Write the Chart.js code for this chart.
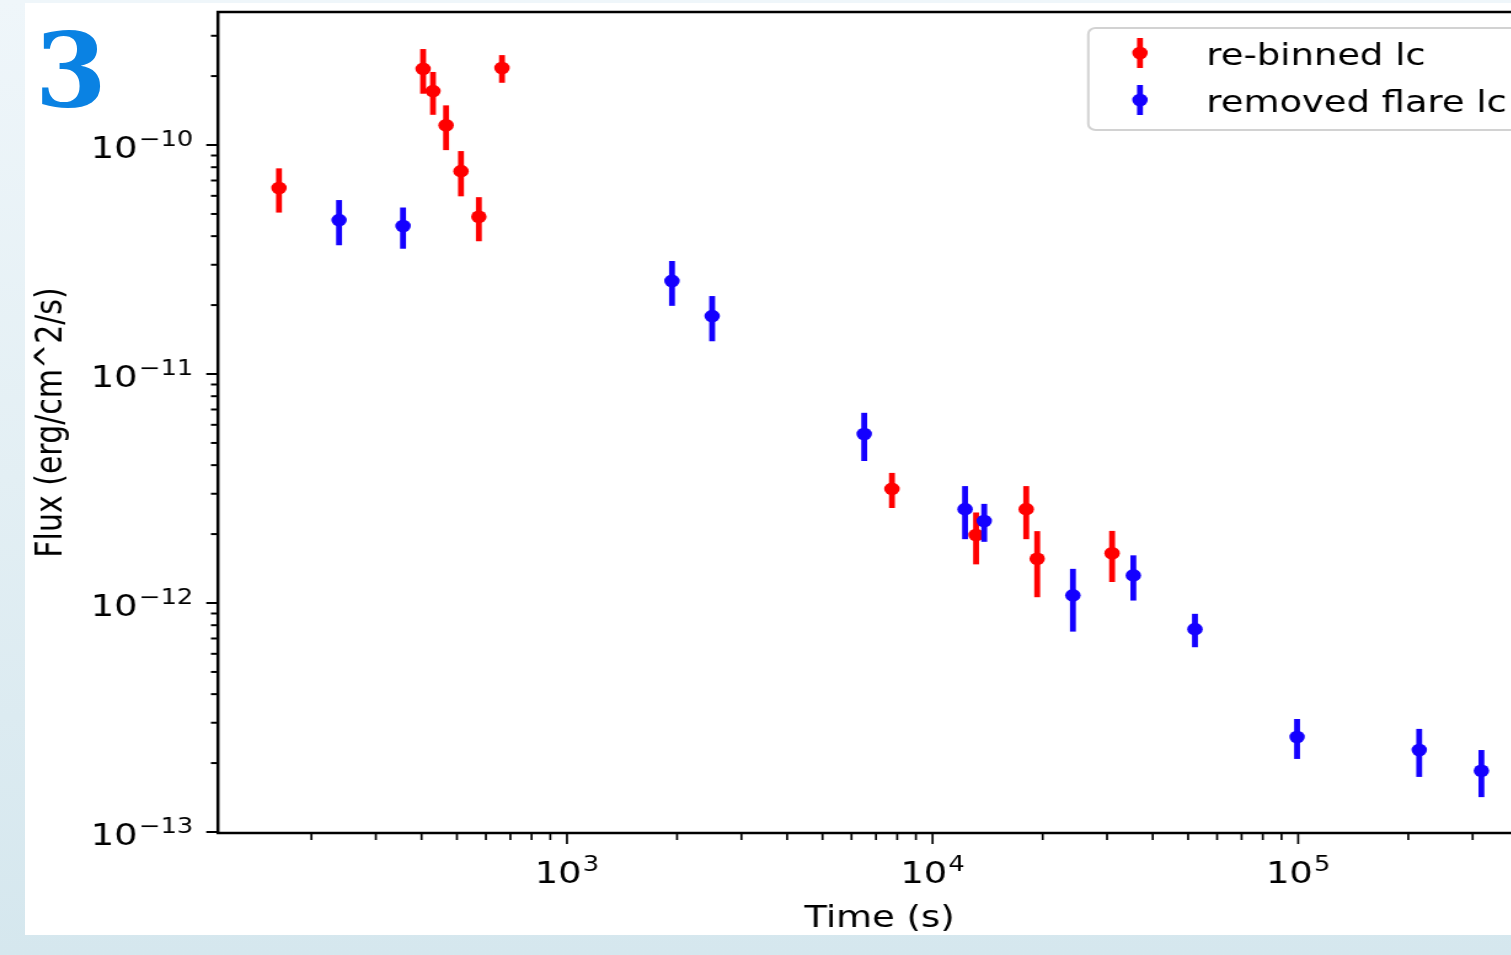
<!DOCTYPE html>
<html>
<head>
<meta charset="utf-8">
<title>Light curve</title>
<script src="https://cdn.jsdelivr.net/npm/chart.js@4.4.1/dist/chart.umd.min.js"></script>
<style>
  html, body { margin: 0; padding: 0; }
  body {
    width: 1511px;
    height: 955px;
    overflow: hidden;
    position: relative;
    background: linear-gradient(to bottom, #eff6fa 0%, #e3eff4 50%, #d5e7ee 100%);
  }
  .panel {
    position: absolute;
    left: 25px;
    top: 3px;
    width: 1500px;
    height: 932px;
    background: #fff;
  }
  .badge {
    position: absolute;
    left: 35px;
    top: 19px;
    font: bold 103px/103px 'DejaVu Serif', serif;
    color: #0a82e3;
  }
  /* the figure is stretched sideways, text included */
  .plot {
    position: absolute;
    left: 0;
    top: 0;
    width: 1300px;
    height: 955px;
    transform: scaleX(1.23);
    transform-origin: 0 0;
  }
</style>
</head>
<body>
<div class="panel"></div>
<div class="badge">3</div>
<div class="plot"><canvas id="lc" width="1300" height="955"></canvas></div>
<script>
// re-binned light curve
const rebinTime = [163, 404, 430, 467, 513, 574, 664, 7740, 13150, 18030, 19320, 30970];
const rebinFlux = [6.49e-11, 2.15e-10, 1.72e-10, 1.22e-10, 7.69e-11, 4.86e-11, 2.17e-10,
                   3.15e-12, 1.98e-12, 2.57e-12, 1.56e-12, 1.65e-12];
const rebinErr  = [1.42e-11, 4.75e-11, 3.65e-11, 2.7e-11, 1.72e-11, 1.06e-11, 3.0e-11,
                   5.5e-13, 5.05e-13, 6.7e-13, 5.0e-13, 4.15e-13];

// light curve with the flare removed
const flareTime = [238, 356, 1937, 2495, 6500, 12270, 13840, 24200, 35400, 52200, 99300, 214300, 317000];
const flareFlux = [4.70e-11, 4.43e-11, 2.55e-11, 1.79e-11, 5.47e-12, 2.57e-12, 2.28e-12,
                   1.08e-12, 1.32e-12, 7.69e-13, 2.60e-13, 2.28e-13, 1.85e-13];
const flareErr  = [1.05e-11, 9.05e-12, 5.65e-12, 4.0e-12, 1.3e-12, 6.7e-13, 4.3e-13,
                   3.3e-13, 2.95e-13, 1.28e-13, 5.15e-14, 5.4e-14, 4.3e-14];

// decade ticks, labelled as 10 with a raised exponent
const timeTicks = [1e3, 1e4, 1e5];
const timeTickExp = ['3', '4', '5'];
const fluxTicks = [1e-13, 1e-12, 1e-11, 1e-10];
const fluxTickExp = ['\u221213', '\u221212', '\u221211', '\u221210'];

const timeRange = [111, 4.62e5];
const fluxRange = [0.99e-13, 3.81e-10];

const RED = '#ff0000';
const BLUE = '#1400ff';
const BAR_WIDTH = 4.8;
const DOT_RADIUS = 6.3;
const FONT = "'DejaVu Sans', sans-serif";

Chart.defaults.font.family = FONT;
Chart.defaults.font.size = 30;
Chart.defaults.color = '#000';

// decade ticks plus the 2..9 minor ticks inside the range
function logTicks(majors, min, max) {
  const out = majors.map(v => ({ value: v, major: true }));
  const lo = Math.floor(Math.log10(min));
  const hi = Math.ceil(Math.log10(max));
  for (let e = lo; e <= hi; e++) {
    for (let k = 2; k <= 9; k++) {
      const v = k * Math.pow(10, e);
      if (v >= min && v <= max) out.push({ value: v, major: false });
    }
  }
  return out.sort((a, b) => a.value - b.value);
}

function points(t, f, err) {
  return t.map((x, i) => ({ x: x, y: f[i], err: err[i] }));
}

// "10" plus superscript; anchor is 'right' or 'center', y is the baseline
function powerLabel(ctx, exp, x, y, anchor) {
  ctx.font = '30px ' + FONT;
  const wBase = ctx.measureText('10').width;
  ctx.font = '21px ' + FONT;
  const wExp = ctx.measureText(exp).width;
  const total = wBase + 1 + wExp;
  const x0 = anchor === 'right' ? x - total : x - total / 2;
  ctx.textAlign = 'left';
  ctx.textBaseline = 'alphabetic';
  ctx.font = '30px ' + FONT;
  ctx.fillText('10', x0, y);
  ctx.font = '21px ' + FONT;
  ctx.fillText(exp, x0 + wBase + 1, y - 11.8);
}

// vertical error bars, drawn just before each dataset's markers
const errorBars = {
  id: 'errorBars',
  beforeDatasetDraw(chart, args) {
    const ds = chart.data.datasets[args.index];
    const { ctx, scales: { x, y } } = chart;
    ctx.save();
    ctx.strokeStyle = ds.borderColor;
    ctx.lineWidth = BAR_WIDTH;
    ctx.lineCap = 'butt';
    ds.data.forEach(p => {
      const px = x.getPixelForValue(p.x);
      ctx.beginPath();
      ctx.moveTo(px, y.getPixelForValue(p.y + p.err));
      ctx.lineTo(px, y.getPixelForValue(p.y - p.err));
      ctx.stroke();
    });
    ctx.restore();
  }
};

// box frame, outward tick marks and the decade labels
const axisFrame = {
  id: 'axisFrame',
  afterDraw(chart) {
    const { ctx, chartArea: a, scales: { x, y } } = chart;
    ctx.save();
    ctx.strokeStyle = '#000';
    ctx.fillStyle = '#000';
    ctx.lineWidth = 1.7;
    x.ticks.forEach(t => {
      const px = x.getPixelForValue(t.value);
      const len = timeTicks.includes(t.value) ? 11 : 7;
      ctx.beginPath();
      ctx.moveTo(px, a.bottom);
      ctx.lineTo(px, a.bottom + len);
      ctx.stroke();
    });
    ctx.lineWidth = 2;
    y.ticks.forEach(t => {
      const py = y.getPixelForValue(t.value);
      const len = fluxTicks.includes(t.value) ? 9.5 : 5.7;
      ctx.beginPath();
      ctx.moveTo(a.left, py);
      ctx.lineTo(a.left - len, py);
      ctx.stroke();
    });
    ctx.lineWidth = 2.5;
    ctx.strokeRect(a.left, a.top, a.right - a.left, a.bottom - a.top);

    timeTicks.forEach((v, i) => {
      powerLabel(ctx, timeTickExp[i], x.getPixelForValue(v), a.bottom + 50, 'center');
    });
    fluxTicks.forEach((v, i) => {
      powerLabel(ctx, fluxTickExp[i], a.left - 20, y.getPixelForValue(v) + 12.5, 'right');
    });
    ctx.restore();
  }
};

// legend in the upper right corner, marker = dot with error bar
const boxLegend = {
  id: 'boxLegend',
  afterDraw(chart) {
    const { ctx, chartArea: a } = chart;
    const left = 884.8;
    const top = a.top + 16;
    ctx.save();
    ctx.beginPath();
    ctx.roundRect(left, top, 420, 102, 6);
    ctx.fillStyle = 'rgba(255,255,255,0.8)';
    ctx.fill();
    ctx.strokeStyle = '#d2d2d2';
    ctx.lineWidth = 2;
    ctx.stroke();
    chart.data.datasets.forEach((ds, i) => {
      const cy = top + 25 + i * 47;
      const mx = left + 42;
      ctx.strokeStyle = ds.borderColor;
      ctx.lineWidth = BAR_WIDTH;
      ctx.beginPath();
      ctx.moveTo(mx, cy - 15);
      ctx.lineTo(mx, cy + 15);
      ctx.stroke();
      ctx.fillStyle = ds.backgroundColor;
      ctx.beginPath();
      ctx.arc(mx, cy, DOT_RADIUS, 0, Math.PI * 2);
      ctx.fill();
      ctx.fillStyle = '#000';
      ctx.font = '30px ' + FONT;
      ctx.textBaseline = 'alphabetic';
      ctx.textAlign = 'left';
      ctx.fillText(ds.label, left + 96, cy + 12);
    });
    ctx.restore();
  }
};

new Chart(document.getElementById('lc'), {
  type: 'scatter',
  data: {
    datasets: [
      {
        label: 're-binned lc',
        data: points(rebinTime, rebinFlux, rebinErr),
        backgroundColor: RED,
        borderColor: RED,
        pointRadius: DOT_RADIUS,
        pointHoverRadius: DOT_RADIUS,
        pointBorderWidth: 0,
        order: 2
      },
      {
        label: 'removed flare lc',
        data: points(flareTime, flareFlux, flareErr),
        backgroundColor: BLUE,
        borderColor: BLUE,
        pointRadius: DOT_RADIUS,
        pointHoverRadius: DOT_RADIUS,
        pointBorderWidth: 0,
        order: 1
      }
    ]
  },
  options: {
    responsive: false,
    animation: false,
    devicePixelRatio: 1,
    events: [],
    layout: { padding: { left: 0, top: 12, right: 47, bottom: 0 } },
    plugins: {
      legend: { display: false },
      tooltip: { enabled: false }
    },
    scales: {
      x: {
        type: 'logarithmic',
        position: 'bottom',
        min: timeRange[0],
        max: timeRange[1],
        afterBuildTicks: s => { s.ticks = logTicks(timeTicks, timeRange[0], timeRange[1]); },
        afterFit: s => { s.height = 122; s.paddingLeft = 0; s.paddingRight = 0; },
        grid: { display: false, drawTicks: false },
        border: { display: false },
        ticks: { autoSkip: false, maxRotation: 0, minRotation: 0, callback: () => '' },
        title: {
          display: true,
          text: 'Time (s)',
          color: '#000',
          padding: { top: 0, bottom: 18 }
        }
      },
      y: {
        type: 'logarithmic',
        position: 'left',
        min: fluxRange[0],
        max: fluxRange[1],
        afterBuildTicks: s => { s.ticks = logTicks(fluxTicks, fluxRange[0], fluxRange[1]); },
        afterFit: s => { s.width = 177.2; s.paddingTop = 0; s.paddingBottom = 0; },
        grid: { display: false, drawTicks: false },
        border: { display: false },
        ticks: { autoSkip: false, callback: () => '' },
        title: {
          display: true,
          text: 'Flux (erg/cm^2/s)',
          color: '#000',
          padding: { top: 24.4, bottom: 0 }
        }
      }
    }
  },
  plugins: [errorBars, axisFrame, boxLegend]
});
</script>
</body>
</html>
